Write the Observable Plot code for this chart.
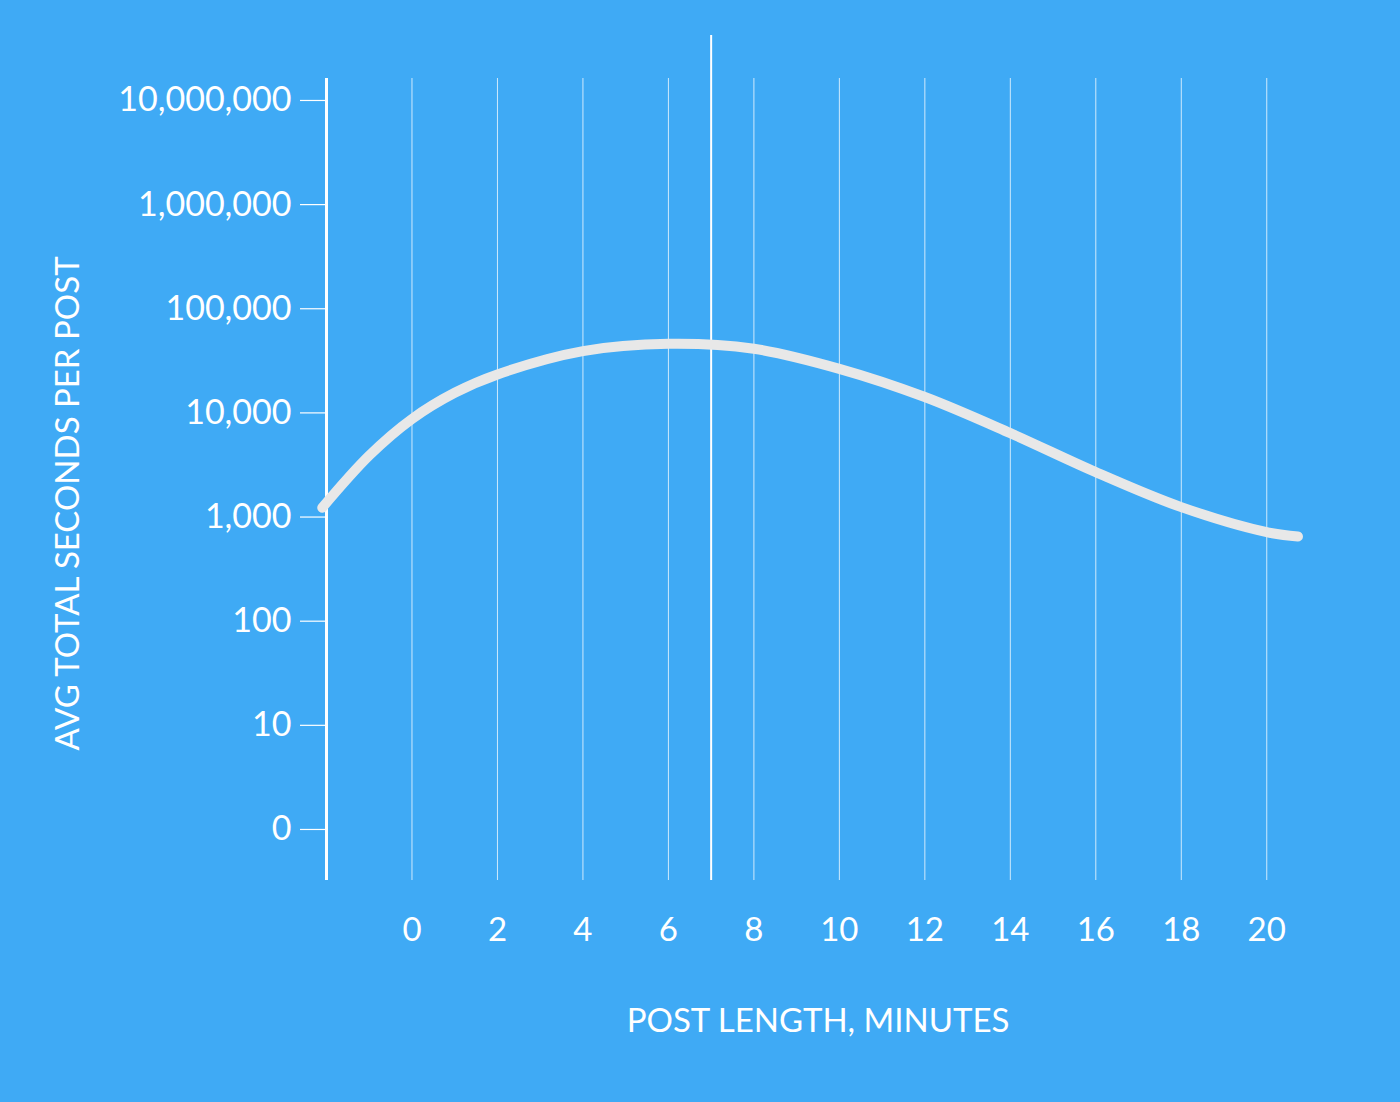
<!DOCTYPE html>
<html>
<head>
<meta charset="utf-8">
<script src="https://cdn.jsdelivr.net/npm/d3@7"></script>
<script src="https://cdn.jsdelivr.net/npm/@observablehq/plot@0.6"></script>
<style>
  html, body { margin: 0; padding: 0; background: #3FAAF5; overflow: hidden; }
</style>
</head>
<body>
<div id="chart"></div>
<script>
const minutes = [-2.1, -1, 0, 1, 2, 4, 6, 8, 10, 12, 14, 16, 18, 20, 20.73];
const seconds = [1230, 3900, 8750, 15600, 23400, 39200, 46100, 41300, 26500, 14200, 6390, 2700, 1245, 716, 651];
const xTicks = [0, 2, 4, 6, 8, 10, 12, 14, 16, 18, 20];
const yTicks = [1, 10, 100, 1000, 10000, 100000, 1000000, 10000000];
const markerMinute = [7];
const yAxisMinute = [-2];
const xLabel = "POST LENGTH, MINUTES";
const yLabel = "AVG TOTAL SECONDS PER POST";

const data = minutes.map((m, i) => ({minute: m, sec: seconds[i]}));
const fmt = d3.format(",");

const chart = Plot.plot({
  width: 1400,
  height: 1102,
  marginLeft: 326,
  marginRight: 91,
  marginTop: 78,
  marginBottom: 222,
  style: {background: "#3FAAF5", color: "white", fontFamily: "Lato, 'Open Sans', sans-serif", fontSize: "33px"},
  x: {domain: [-2, 21]},
  y: {type: "log", domain: [Math.pow(10, -0.49), Math.pow(10, 7.211)]},
  marks: [
    Plot.ruleX(xTicks, {stroke: "white", strokeOpacity: 0.75, strokeWidth: 1}),
    Plot.ruleX(markerMinute, {stroke: "white", strokeWidth: 2, insetTop: -43}),
    Plot.axisY({
      ticks: yTicks,
      tickFormat: d => d === 1 ? "0" : fmt(d),
      tickSize: 26, tickPadding: 9,
      stroke: "white", strokeWidth: 1.2,
      label: null, fontSize: 34
    }),
    Plot.axisX({
      ticks: xTicks,
      tickSize: 0, tickPadding: 37,
      label: xLabel, labelAnchor: "center", labelArrow: "none", labelOffset: 151,
      fontSize: 33
    }),
    Plot.ruleX(yAxisMinute, {stroke: "white", strokeWidth: 3}),
    Plot.text([yLabel], {frameAnchor: "left", textAnchor: "middle", dx: -258, dy: 24, rotate: -90, fill: "white", fontSize: 33}),
    Plot.line(data, {x: "minute", y: "sec", curve: "catmull-rom", stroke: "#E8E8E8", strokeWidth: 10, strokeLinecap: "round", strokeLinejoin: "round"})
  ]
});
document.getElementById("chart").appendChild(chart);
</script>
</body>
</html>
